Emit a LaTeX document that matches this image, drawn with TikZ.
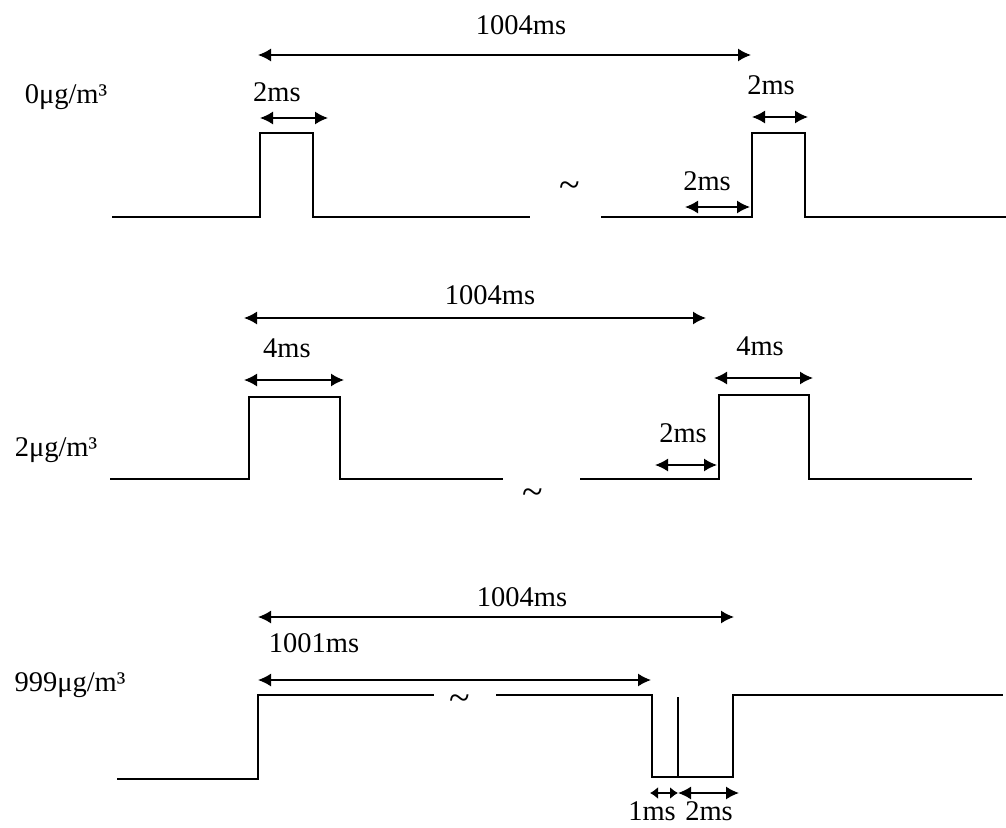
\documentclass[tikz,border=0pt]{standalone}
\usepackage{fontspec}
\setmainfont{Liberation Serif}
\usetikzlibrary{arrows.meta}
\begin{document}
\begin{tikzpicture}[x=1pt,y=-1pt,
  sig/.style={line width=1.6pt},
  dim/.style={line width=1.5pt,{Latex[length=13pt,width=13pt]}-{Latex[length=13pt,width=13pt]}},
  lbl/.style={inner sep=0pt,font=\fontsize{28.5}{30}\selectfont},
  tl/.style={inner sep=0pt,font=\fontsize{38}{38}\selectfont}]
\useasboundingbox (0,0) rectangle (1006,827);
% ---------- row 1 ----------
\node[lbl] (r1name) at (66,97) {0μg/m³};
\draw[sig] (112,217) -- (260,217) -- (260,133) -- (313,133) -- (313,217) -- (530,217);
\draw[sig] (601,217) -- (752,217) -- (752,133) -- (805,133) -- (805,217) -- (1006,217);
\node[tl] (r1t) at (570,190) {\textasciitilde};
\coordinate (a1l) at (258,55); \coordinate (a1r) at (751,55);
\draw[dim] (a1l) -- (a1r);
\node[lbl] (r1big) at (521,25) {1004ms};
\coordinate (b1l) at (260,118); \coordinate (b1r) at (328,118);
\draw[dim] (b1l) -- (b1r);
\node[lbl] (r1w1) at (277,92) {2ms};
\coordinate (c1l) at (752,117); \coordinate (c1r) at (808,117);
\draw[dim] (c1l) -- (c1r);
\node[lbl] (r1w2) at (771,85) {2ms};
\coordinate (d1l) at (685,207); \coordinate (d1r) at (750,207);
\draw[dim] (d1l) -- (d1r);
\node[lbl] (r1g) at (707,181) {2ms};
% ---------- row 2 ----------
\node[lbl] (r2name) at (56,450) {2μg/m³};
\draw[sig] (110,479) -- (249,479) -- (249,397) -- (340,397) -- (340,479) -- (503,479);
\draw[sig] (580,479) -- (719,479) -- (719,395) -- (809,395) -- (809,479) -- (972,479);
\node[tl] (r2t) at (533,497) {\textasciitilde};
\coordinate (a2l) at (244,318); \coordinate (a2r) at (706,318);
\draw[dim] (a2l) -- (a2r);
\node[lbl] (r2big) at (490,295) {1004ms};
\coordinate (b2l) at (244,380); \coordinate (b2r) at (344,380);
\draw[dim] (b2l) -- (b2r);
\node[lbl] (r2w1) at (287,348) {4ms};
\coordinate (c2l) at (714,378); \coordinate (c2r) at (813,378);
\draw[dim] (c2l) -- (c2r);
\node[lbl] (r2w2) at (760,346) {4ms};
\coordinate (d2l) at (655,465); \coordinate (d2r) at (717,465);
\draw[dim] (d2l) -- (d2r);
\node[lbl] (r2g) at (683,433) {2ms};
% ---------- row 3 ----------
\node[lbl] (r3name) at (70,685) {999μg/m³};
\draw[sig] (117,779) -- (258,779) -- (258,695) -- (434,695);
\draw[sig] (496,695) -- (652,695) -- (652,777) -- (733,777) -- (733,695) -- (1003,695);
\draw[line width=1.2pt] (678,697) -- (678,777);
\node[tl] (r3t) at (460,703) {\textasciitilde};
\coordinate (a3l) at (258,617); \coordinate (a3r) at (734,617);
\draw[dim] (a3l) -- (a3r);
\node[lbl] (r3big) at (522,597) {1004ms};
\coordinate (b3l) at (258,680); \coordinate (b3r) at (651,680);
\draw[dim] (b3l) -- (b3r);
\node[lbl] (r3w1) at (314,643) {1001ms};
\coordinate (e3l) at (650,793); \coordinate (e3m) at (678,793); \coordinate (e3r) at (739,793);
\draw[line width=1.5pt,{Latex[length=8pt,width=12pt]}-{Latex[length=8pt,width=12pt]}] (e3l) -- (e3m);
\draw[dim] (e3m) -- (e3r);
\node[lbl] (r3w2) at (652,811) {1ms};
\node[lbl] (r3w3) at (709,811) {2ms};
\end{tikzpicture}
\end{document}
